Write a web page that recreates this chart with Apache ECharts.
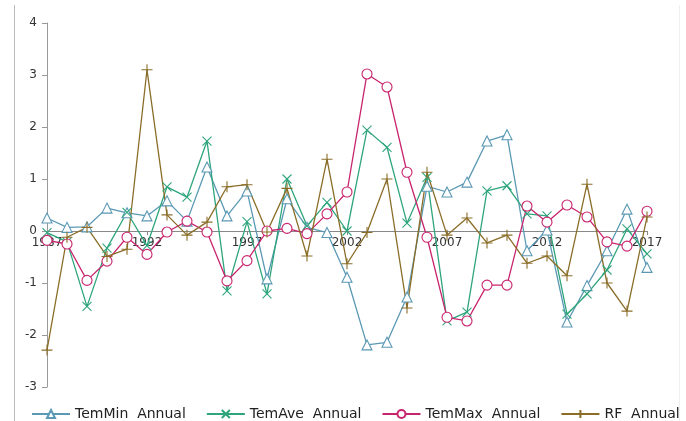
<!DOCTYPE html>
<html>
<head>
<meta charset="utf-8">
<script src="https://cdn.jsdelivr.net/npm/echarts@6/dist/echarts.min.js"></script>
<style>html,body{margin:0;padding:0;background:#fff;}#c{width:686px;height:421px;}</style>
</head>
<body>
<div id="c"></div>
<script>
var years = ['1987','1988','1989','1990','1991','1992','1993','1994','1995','1996','1997','1998','1999','2000','2001','2002','2003','2004','2005','2006','2007','2008','2009','2010','2011','2012','2013','2014','2015','2016','2017'];
var temMin = [0.25,0.07,0.08,0.44,0.35,0.29,0.58,0.19,1.23,0.29,0.77,-0.92,0.62,0.07,-0.03,-0.89,-2.19,-2.14,-1.27,0.86,0.75,0.94,1.73,1.85,-0.38,0.02,-1.75,-1.05,-0.38,0.42,-0.7];
var temAve = [-0.03,-0.21,-1.45,-0.33,0.36,-0.28,0.85,0.65,1.73,-1.15,0.18,-1.21,1.0,0.1,0.55,0.0,1.94,1.61,0.15,1.03,-1.73,-1.56,0.77,0.87,0.33,0.29,-1.6,-1.21,-0.75,0.04,-0.44];
var temMax = [-0.18,-0.25,-0.95,-0.58,-0.12,-0.45,-0.02,0.19,-0.02,-0.96,-0.57,0.0,0.05,-0.05,0.33,0.75,3.02,2.77,1.13,-0.12,-1.66,-1.73,-1.04,-1.04,0.48,0.17,0.5,0.27,-0.21,-0.29,0.38];
var rf = [-2.29,-0.12,0.07,-0.49,-0.35,3.1,0.31,-0.08,0.17,0.85,0.89,-0.02,0.82,-0.48,1.38,-0.63,-0.03,1.0,-1.48,1.13,-0.08,0.25,-0.23,-0.08,-0.62,-0.48,-0.86,0.9,-1.0,-1.54,0.27];
var seriesNames = ['TemMin  Annual','TemAve  Annual','TemMax  Annual','RF  Annual'];
var yTicks = [-3,-2,-1,0,1,2,3,4];

var colors = ['#5a98b4','#2fa57c','#c8246e','#8a6d28'];
var crossPath = 'path://M0,0L10,10M10,0L0,10';
var plusPath = 'path://M5,0L5,10M0,5L10,5';

var gridTop = 23, gridBottom = 34, chartH = 421;
var plotH = chartH - gridTop - gridBottom;
var zeroOffset = -plotH * (0 - yTicks[0]) / (yTicks[yTicks.length-1] - yTicks[0]);

function mk(name, data, color, symbol, size) {
  return {
    name: name, type: 'line', data: data, symbol: symbol, symbolSize: size,
    showAllSymbol: true,
    lineStyle: {color: color, width: 1.3},
    itemStyle: {color: '#fff', borderColor: color, borderWidth: 1.1},
    animation: false
  };
}

var chart = echarts.init(document.getElementById('c'));
chart.setOption({
  backgroundColor: '#fff',
  animation: false,
  grid: {left: 47, right: 39, top: gridTop, bottom: gridBottom, containLabel: false},
  graphic: [{type: 'line', shape: {x1: 14.5, y1: 5, x2: 14.5, y2: 421}, style: {stroke: '#bbb', lineWidth: 1}},
            {type: 'line', shape: {x1: 679.5, y1: 5, x2: 679.5, y2: 421}, style: {stroke: '#f0f0f0', lineWidth: 1}}],
  legend: {
    bottom: -5, left: 26, itemGap: 20, itemWidth: 38, itemHeight: 10,
    textStyle: {fontFamily: 'DejaVu Sans', fontSize: 14, color: '#222'},
    data: seriesNames
  },
  xAxis: {
    type: 'category', data: years, boundaryGap: false,
    offset: zeroOffset,
    axisLine: {onZero: false, lineStyle: {color: '#888', width: 1}},
    axisTick: {show: true, interval: 4, length: 4, inside: false, lineStyle: {color: '#888'}},
    axisLabel: {interval: 4, margin: 6, fontFamily: 'DejaVu Sans', fontSize: 12, color: '#333'},
    splitLine: {show: false}
  },
  yAxis: {
    type: 'value', min: yTicks[0], max: yTicks[yTicks.length-1], interval: 1,
    axisLine: {show: true, onZero: false, lineStyle: {color: '#999'}},
    axisTick: {show: true, length: 5, lineStyle: {color: '#999'}},
    axisLabel: {margin: 10, fontFamily: 'DejaVu Sans', fontSize: 12, color: '#333'},
    splitLine: {show: false}
  },
  series: [
    mk(seriesNames[0], temMin, colors[0], 'triangle', 10),
    mk(seriesNames[1], temAve, colors[1], crossPath, 9),
    mk(seriesNames[2], temMax, colors[2], 'circle', 10),
    mk(seriesNames[3], rf, colors[3], plusPath, 11)
  ]
});
</script>
</body>
</html>
